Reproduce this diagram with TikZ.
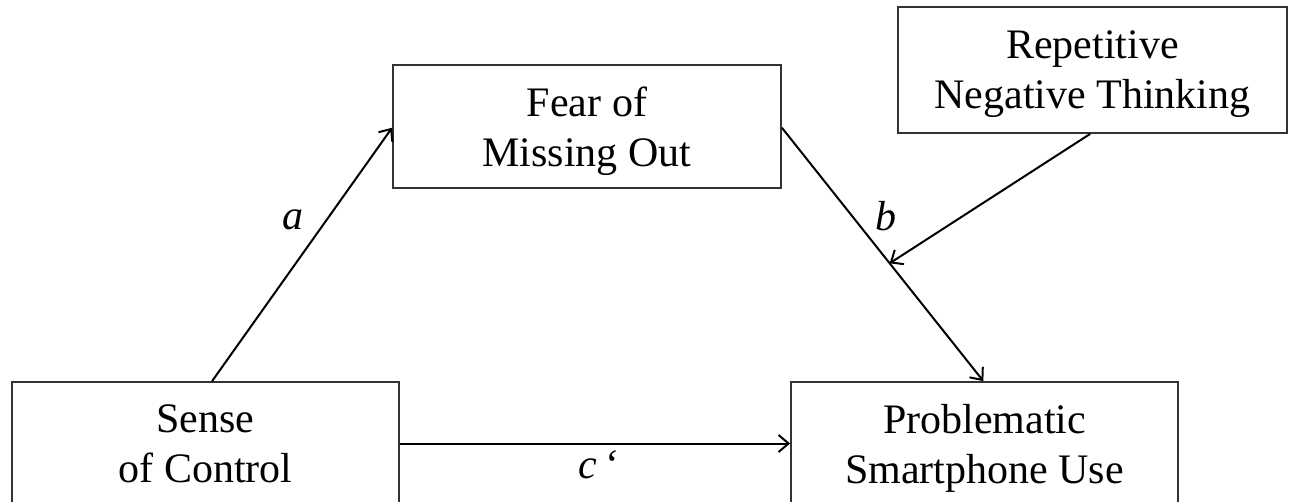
\documentclass[tikz,border=0pt]{standalone}
\usepackage{fontspec}
\setmainfont{Liberation Serif}
\usetikzlibrary{arrows.meta,calc}
\begin{document}
\begin{tikzpicture}[x=1pt,y=-1pt,
  box/.style={draw=black!80,line width=1.8pt,rectangle,align=center,inner sep=0pt,
    font=\fontsize{42}{50}\selectfont,text depth=0pt},
  conn/.style={line width=2pt,-{Straight Barb[length=10pt,width=17pt,line width=2pt]}},
  lbl/.style={font=\fontsize{42}{50}\selectfont\itshape,inner sep=0pt}]
\useasboundingbox (0,0) rectangle (1290,502);
\node[box,minimum width=388pt,minimum height=123pt] (fomo) at (587,126.5) {Fear of\\Missing Out};
\node[box,minimum width=389pt,minimum height=126pt] (rnt) at (1092.5,70) {Repetitive\\Negative Thinking};
\node[box,minimum width=387pt,minimum height=123pt] (soc) at (205.5,443.5) {Sense\\of Control};
\node[box,minimum width=387pt,minimum height=123pt] (psu) at (984.5,443.5) {Problematic\\Smartphone Use};
\draw[conn] ($(soc.north west)!0.517!(soc.north east)$) -- ($(fomo.north west)!0.51!(fomo.south west)$);
\draw[conn] ($(fomo.north east)!0.51!(fomo.south east)$) -- coordinate[pos=0.535] (bmid) ($(psu.north west)!0.497!(psu.north east)$);
\draw[conn] ($(rnt.south west)!0.494!(rnt.south east)$) -- (bmid);
\draw[conn] (soc.east) -- (psu.west);
\node[lbl] (la) at (293,220) {a};
\node[lbl] (lb) at (886,216) {b};
\node[lbl] (lc) at (598,465) {c\,\textquoteleft};
\end{tikzpicture}
\end{document}
